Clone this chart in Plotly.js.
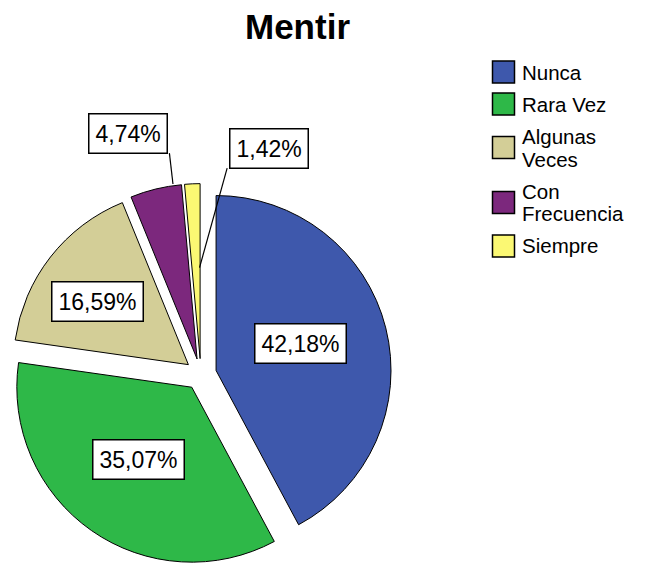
<!DOCTYPE html>
<html><head><meta charset="utf-8">
<script src="https://cdn.plot.ly/plotly-3.0.1.min.js"></script>
<style>html,body{margin:0;padding:0;background:#fff;overflow:hidden}#chart{width:650px;height:565px}</style>
</head><body><div id="chart"></div>
<script>
const categories = ['Nunca', 'Rara Vez', 'Algunas Veces', 'Con Frecuencia', 'Siempre'];
const legendLabels = ['Nunca', 'Rara Vez', 'Algunas<br>Veces', 'Con<br>Frecuencia', 'Siempre'];
const percentages = [42.18, 35.07, 16.59, 4.74, 1.42];
const percentLabels = ['42,18%', '35,07%', '16,59%', '4,74%', '1,42%'];
const colors = ['#3E58AC', '#2EB848', '#D3CE97', '#7C287D', '#FBF873'];

// label placement (style): radial fraction and angular offset from slice bisector
const labelPlacement = [
  {r: 0.508, dAng: -3.6},
  {r: 0.516, dAng: 1.3},
  {r: 0.633, dAng: -3.5},
  {r: 1.347, dAng: -3.3, headR: 1.01, headDAng: 5.8, leadDx: 41, leadDy: 19.5},
  {r: 1.265, dAng: 20.6, headR: 0.52, headDAng: 2.2, leadDx: -41.5, leadDy: 20}
];

const W = 650, H = 565;
const PULL = 0.09;
const domX = [0.01554, 0.6023];
const domY = [0, 0.675];
const FONT = 'Liberation Sans, Arial, Helvetica, sans-serif';

// mirror Plotly's pie geometry to place label boxes
const boxW = W * (domX[1] - domX[0]);
const boxH = H * (domY[1] - domY[0]);
const R = Math.min(boxW, boxH) / (2 + 2 * PULL);
const CX = W * (domX[0] + domX[1]) / 2;
const CY = H * (1 - domY[0]) - boxH / 2;
function dir(a) { const t = a * Math.PI / 180; return [Math.sin(t), -Math.cos(t)]; }
function px2x(px) { return px / W; }
function px2y(py) { return 1 - py / H; }

const total = percentages.reduce((s, v) => s + v, 0);
let cum = 0;
const annotations = [];
const shapes = [];
percentages.forEach((v, i) => {
  const a0 = cum / total * 360;
  cum += v;
  const a1 = cum / total * 360;
  const mid = (a0 + a1) / 2;
  const d = dir(mid);
  const vx = CX + PULL * R * d[0], vy = CY + PULL * R * d[1];
  const p = labelPlacement[i];
  const ld = dir(mid + p.dAng);
  const lx = vx + p.r * R * ld[0], ly = vy + p.r * R * ld[1];
  if (p.headR !== undefined) {
    const hd = dir(mid + p.headDAng);
    const hx = vx + p.headR * R * hd[0], hy = vy + p.headR * R * hd[1];
    shapes.push({type: 'line', xref: 'paper', yref: 'paper',
      x0: px2x(lx + p.leadDx), y0: px2y(ly + p.leadDy), x1: px2x(hx), y1: px2y(hy),
      line: {color: '#000', width: 1.2}, layer: 'above'});
  }
  annotations.push({
    text: percentLabels[i], xref: 'paper', yref: 'paper',
    x: px2x(lx), y: px2y(ly), showarrow: false, xanchor: 'center', yanchor: 'middle',
    font: {family: FONT, size: 23, color: '#000'},
    bgcolor: '#ffffff', bordercolor: '#000000', borderwidth: 1.5, borderpad: 6
  });
});

// hand-built legend (large square swatches, tight line spacing)
const LEG = {boxX: 492.5, box: 22, textX: 520, startY: 72, lineH: 23, gap: 9, font: 20.5};
let prevLines = 0, yc = LEG.startY;
legendLabels.forEach((lab, i) => {
  const lines = lab.split('<br>');
  if (i > 0) yc += (prevLines + lines.length) * LEG.lineH / 2 + LEG.gap;
  prevLines = lines.length;
  shapes.push({type: 'rect', xref: 'paper', yref: 'paper',
    x0: px2x(LEG.boxX), x1: px2x(LEG.boxX + LEG.box),
    y0: px2y(yc - LEG.box / 2), y1: px2y(yc + LEG.box / 2),
    fillcolor: colors[i], line: {color: '#000', width: 1.5}, layer: 'above'});
  lines.forEach((t, k) => {
    const ly = yc + (k - (lines.length - 1) / 2) * LEG.lineH;
    annotations.push({text: t, xref: 'paper', yref: 'paper', x: px2x(LEG.textX), y: px2y(ly),
      xanchor: 'left', yanchor: 'middle', showarrow: false,
      font: {family: FONT, size: LEG.font, color: '#000'}});
  });
});

const trace = {
  type: 'pie',
  labels: categories,
  values: percentages,
  sort: false,
  direction: 'clockwise',
  rotation: 0,
  pull: PULL,
  textinfo: 'none',
  hoverinfo: 'skip',
  showlegend: false,
  marker: {colors: colors, line: {color: '#000000', width: 1}},
  domain: {x: domX, y: domY}
};

const layout = {
  width: W, height: H,
  margin: {l: 0, r: 0, t: 0, b: 0},
  paper_bgcolor: '#ffffff',
  title: {text: 'Mentir', font: {family: FONT, size: 35, weight: 'bold', color: '#000'},
          x: 297.5 / W, xanchor: 'center', y: 1 - 27 / H, yanchor: 'middle'},
  showlegend: false,
  shapes: shapes,
  annotations: annotations
};

Plotly.newPlot('chart', [trace], layout, {staticPlot: true, displayModeBar: false});
</script>
</body></html>
